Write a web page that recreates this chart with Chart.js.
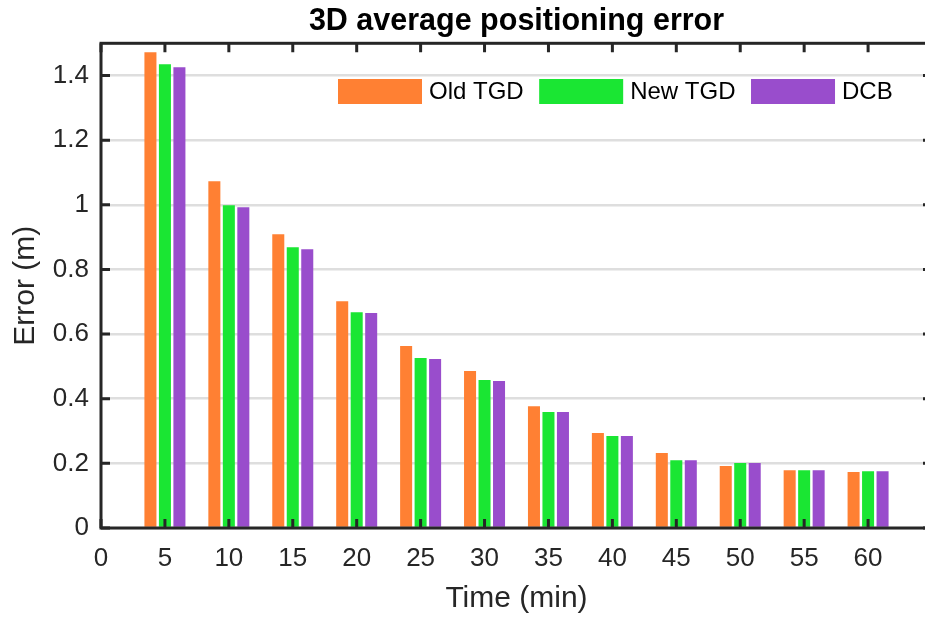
<!DOCTYPE html>
<html>
<head>
<meta charset="utf-8">
<title>3D average positioning error</title>
<script src="https://cdn.jsdelivr.net/npm/chart.js@4.4.0/dist/chart.umd.js"></script>
<style>
  html, body { margin: 0; padding: 0; background: #fff; overflow: hidden; }
  canvas { display: block; }
</style>
</head>
<body>
<!-- canvas is a bit wider than the window: the right edge of the axes box falls just outside the picture -->
<canvas id="chart" width="935" height="617"></canvas>
<script>
// values
const times = [5, 10, 15, 20, 25, 30, 35, 40, 45, 50, 55, 60];
const oldTgd = [1.472, 1.073, 0.909, 0.702, 0.563, 0.486, 0.377, 0.294, 0.232, 0.192, 0.179, 0.173];
const newTgd = [1.435, 0.999, 0.869, 0.668, 0.526, 0.458, 0.359, 0.285, 0.210, 0.201, 0.179, 0.176];
const dcb = [1.426, 0.993, 0.863, 0.665, 0.523, 0.455, 0.359, 0.285, 0.210, 0.201, 0.179, 0.176];
const seriesNames = ['Old TGD', 'New TGD', 'DCB'];
const seriesColors = ['#FF8033', '#1AE633', '#994DCC'];
const xLabelMax = 60;

const FONT = "'Liberation Sans', Arial, sans-serif";
const AXIS_COLOR = '#262626';
Chart.defaults.font.family = FONT;

const toPoints = (vals) => times.map((t, i) => ({ x: t, y: vals[i] }));

// box, inward ticks on all four sides (drawn on top of bars)
const framePlugin = {
    id: 'frame',
    afterDatasetsDraw(chart) {
        const { ctx, chartArea: a, scales } = chart;
        const len = 9;
        ctx.save();
        ctx.strokeStyle = AXIS_COLOR;
        ctx.lineWidth = 3;
        ctx.beginPath();
        scales.x.ticks.forEach(t => {
            const px = scales.x.getPixelForValue(t.value);
            ctx.moveTo(px, a.bottom); ctx.lineTo(px, a.bottom - len);
            ctx.moveTo(px, a.top); ctx.lineTo(px, a.top + len);
        });
        scales.y.ticks.forEach(t => {
            const py = scales.y.getPixelForValue(t.value);
            ctx.moveTo(a.left, py); ctx.lineTo(a.left + len, py);
            ctx.moveTo(a.right, py); ctx.lineTo(a.right - len, py);
        });
        ctx.stroke();
        ctx.strokeRect(a.left, a.top, a.right - a.left, a.bottom - a.top);
        ctx.restore();
    }
};

// MATLAB style legend inside the axes, no frame
const legendPlugin = {
    id: 'insideLegend',
    afterDraw(chart) {
        const { ctx } = chart;
        const boxW = 84, boxH = 25, top = 79;
        let x = 338;
        ctx.save();
        ctx.font = '24px ' + FONT;
        ctx.textBaseline = 'middle';
        ctx.textAlign = 'left';
        chart.data.datasets.forEach(ds => {
            ctx.fillStyle = ds.backgroundColor;
            ctx.fillRect(x, top, boxW, boxH);
            ctx.fillStyle = '#000';
            ctx.fillText(ds.label, x + boxW + 7, top + boxH / 2 + 1);
            x += boxW + 7 + ctx.measureText(ds.label).width + 15.5;
        });
        ctx.restore();
    }
};

const datasets = [oldTgd, newTgd, dcb].map((vals, i) => ({
    label: seriesNames[i],
    data: toPoints(vals),
    backgroundColor: seriesColors[i],
    borderWidth: 0,
    categoryPercentage: 0.68,
    barPercentage: 0.83
}));

new Chart(document.getElementById('chart').getContext('2d'), {
    type: 'bar',
    data: { datasets: datasets },
    options: {
        responsive: false,
        animation: false,
        events: [],
        layout: { padding: { left: 0, right: 3, top: 0, bottom: 0 } },
        plugins: {
            legend: { display: false },
            tooltip: { enabled: false },
            title: {
                display: true,
                text: '3D average positioning error',
                fullSize: false,
                color: '#000',
                font: { size: 30.5, weight: 'bold' },
                padding: { top: 3.4, bottom: 3.3 }
            }
        },
        scales: {
            x: {
                type: 'linear',
                min: 0,
                max: 65,
                offset: false,
                grid: { display: false, drawTicks: false, offset: false },
                border: { display: false },
                ticks: {
                    stepSize: 5,
                    includeBounds: false,
                    maxRotation: 0,
                    autoSkip: false,
                    padding: 15,
                    color: AXIS_COLOR,
                    font: { size: 26 },
                    callback: (v) => (v > xLabelMax ? '' : String(v))
                },
                title: {
                    display: true,
                    text: 'Time (min)',
                    color: AXIS_COLOR,
                    font: { size: 30 },
                    padding: { top: 0, bottom: 0 }
                },
                afterFit(scale) {
                    scale.height = 89;
                    scale.paddingLeft = 0;
                    scale.paddingRight = 0;
                }
            },
            y: {
                min: 0,
                max: 1.5,
                grid: { color: '#dedede', lineWidth: 2.5, drawTicks: false },
                border: { display: false },
                ticks: {
                    stepSize: 0.2,
                    includeBounds: false,
                    padding: 12,
                    color: AXIS_COLOR,
                    font: { size: 26 },
                    callback: (v) => String(Math.round(v * 10) / 10)
                },
                title: {
                    display: true,
                    text: 'Error (m)',
                    color: AXIS_COLOR,
                    font: { size: 30 },
                    padding: { top: 8, bottom: 0 }
                },
                afterFit(scale) { scale.width = 101; }
            }
        }
    },
    plugins: [framePlugin, legendPlugin]
});
</script>
</body>
</html>
